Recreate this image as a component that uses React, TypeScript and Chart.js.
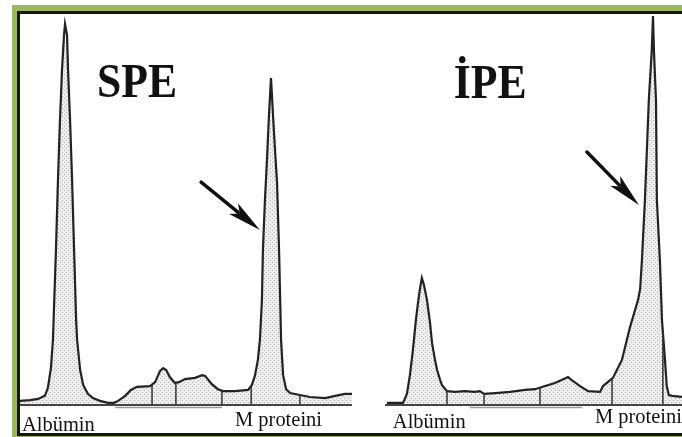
import React, { useEffect, useRef } from 'react';
import { Chart, registerables } from 'chart.js';
Chart.register(...registerables);

// ---- SPE trace (migration position 0-100, relative intensity 0-100)
const speX = [0.0, 3.0, 5.4, 7.4, 8.3, 9.2, 9.8, 10.7, 11.3, 11.9, 12.5, 13.1, 13.4, 14.0, 14.3, 14.9, 15.5, 16.1, 16.7, 17.0, 17.9, 18.8, 20.2, 21.7, 23.8, 26.2, 28.0, 29.2, 31.3, 33.0, 34.8, 38.7, 40.2, 41.7, 42.6, 43.5, 44.6, 46.1, 47.3, 49.1, 52.1, 54.2, 55.1, 57.1, 58.9, 60.4, 64.0, 67.9, 69.0, 69.9, 70.8, 71.4, 72.0, 72.3, 72.9, 73.5, 74.1, 74.7, 75.3, 75.9, 76.5, 77.1, 77.7, 78.3, 79.2, 80.4, 83.3, 86.3, 90.8, 93.8, 96.7, 98.8];
const speY = [0.8, 1.0, 1.3, 2.1, 4.1, 9.2, 16.4, 39.5, 57.4, 72.8, 85.6, 94.6, 97.4, 94.6, 85.6, 72.8, 57.4, 39.5, 21.5, 16.4, 8.7, 4.9, 2.6, 1.5, 0.8, 0.3, 0.3, 0.8, 2.1, 3.6, 4.4, 4.6, 5.6, 8.5, 9.2, 8.7, 6.9, 5.4, 5.6, 6.4, 6.7, 7.4, 7.2, 5.1, 3.8, 3.3, 3.3, 3.6, 4.9, 7.2, 11.3, 16.4, 26.7, 39.5, 52.3, 62.6, 74.1, 83.6, 74.1, 65.1, 56.7, 39.5, 16.4, 7.4, 3.8, 2.8, 2.3, 1.8, 1.5, 2.1, 2.6, 2.6];

// ---- IPE trace
const ipeX = [1.3, 6.7, 8.0, 9.0, 10.0, 11.0, 11.7, 12.4, 13.0, 13.7, 14.7, 15.7, 16.4, 17.4, 18.1, 19.1, 19.7, 21.4, 24.1, 27.4, 30.8, 32.4, 33.8, 37.5, 42.5, 47.5, 50.8, 54.2, 57.5, 59.9, 61.9, 63.5, 65.9, 68.6, 72.6, 73.6, 76.9, 79.9, 82.6, 85.3, 86.0, 86.6, 87.6, 88.9, 89.9, 90.3, 90.6, 91.3, 91.6, 92.6, 93.3, 94.3, 94.9, 95.6, 96.7, 100];
const ipeY = [0.3, 0.3, 2.6, 7.4, 13.8, 21.5, 25.9, 29.7, 32.3, 30.5, 26.7, 21.0, 15.6, 11.3, 8.7, 6.2, 4.9, 3.3, 3.1, 3.3, 3.1, 3.3, 2.6, 2.8, 3.1, 3.6, 3.8, 4.6, 5.4, 6.2, 6.9, 5.9, 4.6, 3.3, 3.1, 4.6, 6.7, 11.3, 19.7, 26.7, 29.5, 36.9, 52.3, 77.9, 90.8, 99.5, 90.8, 77.9, 52.3, 36.9, 21.5, 11.3, 4.6, 2.3, 2.1, 1.8];

// fraction divider positions
const speDividers = [39.3, 46.4, 60.1, 68.8, 83.3];
const ipeDividers = [21.4, 33.8, 52.5, 76.6, 93.6];

// labels
const speTitle = 'SPE';
const ipeTitle = 'İPE';
const peakLabels = ['Albümin', 'M proteini'];

// arrows: [tailX, tailY, tipX, tipY] in data units
const speArrow = [53.9, 56.9, 71.4, 44.6];
const ipeArrow = [68.2, 64.6, 85.6, 51.0];

type PanelCfg = {
  xs: number[];
  ys: number[];
  dividers: number[];
  title: string;
  titleX: number;
  titleY: number;
  arrow: number[];
  labelX: number[];
  labelDy: number[];
  base: number[];
  base2: number[];
};

function makePattern(ctx: CanvasRenderingContext2D) {
  const c = document.createElement('canvas');
  c.width = 4;
  c.height = 4;
  const g = c.getContext('2d')!;
  g.fillStyle = '#eeeeee';
  g.fillRect(0, 0, 4, 4);
  g.fillStyle = '#aeaeae';
  g.fillRect(0, 0, 1, 1);
  g.fillRect(2, 2, 1, 1);
  return ctx.createPattern(c, 'repeat');
}

function interp(xs: number[], ys: number[], x: number) {
  for (let i = 0; i < xs.length - 1; i++) {
    if (x >= xs[i] && x <= xs[i + 1]) {
      const t = (x - xs[i]) / (xs[i + 1] - xs[i] || 1);
      return ys[i] + t * (ys[i + 1] - ys[i]);
    }
  }
  return 0;
}

function scaledText(ctx: CanvasRenderingContext2D, text: string, x: number, y: number, sx: number) {
  ctx.save();
  ctx.translate(x, y);
  ctx.scale(sx, 1);
  ctx.fillText(text, 0, 0);
  ctx.restore();
}

function makePlugin(cfg: PanelCfg) {
  return {
    id: 'panelDecor',
    afterDatasetsDraw(chart: any) {
      const ctx: CanvasRenderingContext2D = chart.ctx;
      const xs = chart.scales.x;
      const ysc = chart.scales.y;
      const y0 = ysc.getPixelForValue(0);
      ctx.save();
      // dividers
      ctx.strokeStyle = '#333';
      ctx.lineWidth = 1.5;
      cfg.dividers.forEach((d) => {
        const px = xs.getPixelForValue(d);
        const v = interp(cfg.xs, cfg.ys, d);
        ctx.beginPath();
        ctx.moveTo(px, y0 + 1);
        ctx.lineTo(px, ysc.getPixelForValue(v));
        ctx.stroke();
      });
      // baselines
      ctx.strokeStyle = '#444';
      ctx.lineWidth = 2;
      ctx.beginPath();
      ctx.moveTo(xs.getPixelForValue(cfg.base[0]), y0 + 1);
      ctx.lineTo(xs.getPixelForValue(cfg.base[1]), y0 + 1);
      ctx.stroke();
      ctx.strokeStyle = '#999';
      ctx.lineWidth = 1.5;
      ctx.beginPath();
      ctx.moveTo(xs.getPixelForValue(cfg.base2[0]), y0 + 3.5);
      ctx.lineTo(xs.getPixelForValue(cfg.base2[1]), y0 + 3.5);
      ctx.stroke();
      // arrow
      const [ax, ay, bx, by] = cfg.arrow;
      const x1 = xs.getPixelForValue(ax), y1 = ysc.getPixelForValue(ay);
      const x2 = xs.getPixelForValue(bx), y2 = ysc.getPixelForValue(by);
      const ang = Math.atan2(y2 - y1, x2 - x1);
      const hl = 34, hw = 7;
      const hx = x2 - hl * Math.cos(ang), hy = y2 - hl * Math.sin(ang);
      ctx.strokeStyle = '#111';
      ctx.fillStyle = '#111';
      ctx.lineWidth = 3.5;
      ctx.lineCap = 'round';
      ctx.beginPath();
      ctx.moveTo(x1, y1);
      ctx.lineTo(hx + 6 * Math.cos(ang), hy + 6 * Math.sin(ang));
      ctx.stroke();
      ctx.beginPath();
      ctx.moveTo(x2, y2);
      ctx.lineTo(hx + hw * Math.sin(ang), hy - hw * Math.cos(ang));
      ctx.lineTo(hx + 8 * Math.cos(ang), hy + 8 * Math.sin(ang));
      ctx.lineTo(hx - hw * Math.sin(ang), hy + hw * Math.cos(ang));
      ctx.closePath();
      ctx.fill();
      // title
      ctx.fillStyle = '#111';
      ctx.textBaseline = 'alphabetic';
      ctx.textAlign = 'left';
      ctx.font = 'bold 48px "Liberation Serif", "Times New Roman", serif';
      scaledText(ctx, cfg.title, xs.getPixelForValue(cfg.titleX), ysc.getPixelForValue(cfg.titleY), 0.91);
      // peak labels
      ctx.font = '22px "Liberation Serif", "Times New Roman", serif';
      peakLabels.forEach((t, i) => {
        scaledText(ctx, t, xs.getPixelForValue(cfg.labelX[i]), y0 + cfg.labelDy[i], 0.93);
      });
      ctx.restore();
    },
  };
}

function Panel({ cfg, width, height, left }: { cfg: PanelCfg; width: number; height: number; left: number }) {
  const ref = useRef<HTMLCanvasElement>(null);
  useEffect(() => {
    const canvas = ref.current!;
    const ctx = canvas.getContext('2d')!;
    const pattern = makePattern(ctx);
    const chart = new Chart(canvas, {
      type: 'line',
      data: {
        datasets: [
          {
            data: cfg.xs.map((x, i) => ({ x, y: cfg.ys[i] })),
            borderColor: '#222',
            borderWidth: 2.2,
            backgroundColor: pattern as any,
            fill: 'origin',
            pointRadius: 0,
            tension: 0,
            clip: false as any,
          },
        ],
      },
      options: {
        animation: false,
        responsive: false,
        maintainAspectRatio: false,
        layout: { padding: { left: 0, right: 0, top: 0, bottom: 29 } },
        scales: {
          x: { type: 'linear', min: 0, max: 100, display: false },
          y: { min: 0, max: 100, display: false },
        },
        plugins: { legend: { display: false }, tooltip: { enabled: false } },
      },
      plugins: [makePlugin(cfg) as any],
    });
    return () => chart.destroy();
  }, [cfg]);
  return (
    <canvas
      ref={ref}
      width={width}
      height={height}
      style={{ position: 'absolute', left, top: 14, width, height }}
    />
  );
}

const speCfg: PanelCfg = {
  xs: speX,
  ys: speY,
  dividers: speDividers,
  title: speTitle,
  titleX: 22.9,
  titleY: 78.7,
  arrow: speArrow,
  labelX: [0.6, 64.0],
  labelDy: [27, 22],
  base: [0, 98.8],
  base2: [28.3, 60.1],
};

const ipeCfg: PanelCfg = {
  xs: ipeX,
  ys: ipeY,
  dividers: ipeDividers,
  title: ipeTitle,
  titleX: 23.7,
  titleY: 78.5,
  arrow: ipeArrow,
  labelX: [3.3, 70.9],
  labelDy: [24, 19],
  base: [0.7, 100],
  base2: [29.1, 66.6],
};

export default function App() {
  return (
    <div style={{ position: 'fixed', left: 0, top: 0, width: 682, height: 437, overflow: 'hidden', background: '#fff' }}>
      <div style={{ position: 'absolute', left: 12, top: 5, width: 700, height: 460, background: '#9bbb59' }} />
      <div style={{ position: 'absolute', left: 17, top: 11, width: 700, height: 425, background: '#151515' }} />
      <div style={{ position: 'absolute', left: 20, top: 14, width: 700, height: 419, background: '#fff' }} />
      <Panel cfg={speCfg} width={336} height={419} left={20} />
      <Panel cfg={ipeCfg} width={299} height={419} left={383} />
    </div>
  );
}
